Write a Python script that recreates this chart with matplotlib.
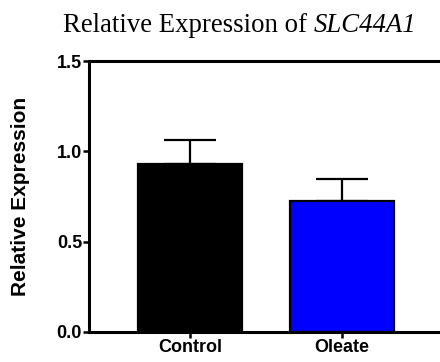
import matplotlib
matplotlib.use('Agg')
import matplotlib.pyplot as plt
import numpy as np

groups = ['Control', 'Oleate']
means = [0.93, 0.725]
sem = [0.135, 0.122]
colors = ['#000000', '#0000ff']

fig = plt.figure(figsize=(4.4, 3.62), dpi=100)
ax = fig.add_axes([89 / 440, 30 / 362, 1 - 89 / 440, 271 / 362])

x = np.arange(len(groups))
ax.bar(x, means, width=0.685, color=colors, edgecolor='black', linewidth=1.6, zorder=2)
ax.errorbar(x, means, yerr=[[0, 0], sem], fmt='none', ecolor='black',
            elinewidth=1.6, capsize=19, capthick=1.6, zorder=1)

ax.set_xlim(-0.664, 1.645)
ax.set_ylim(0, 1.5)
ax.set_yticks([0.0, 0.5, 1.0, 1.5])
ax.set_yticklabels(['0.0', '0.5', '1.0', '1.5'])
ax.set_xticks(x)
ax.set_xticklabels(groups)

for lab in ax.get_xticklabels() + ax.get_yticklabels():
    lab.set_fontfamily('Liberation Sans')
    lab.set_fontweight('bold')
    lab.set_fontsize(13)

ax.spines['right'].set_visible(False)
for s in ['left', 'top', 'bottom']:
    ax.spines[s].set_linewidth(2.2)
ax.tick_params(axis='both', width=1.8, length=4, pad=1)

ax.set_ylabel('Relative Expression', fontfamily='Liberation Sans',
              fontweight='bold', fontsize=15)
ax.yaxis.set_label_coords(-59 / 351, 0.5)

# title in two parts: plain + italic gene name, centred together
ty = 1 - 26 / 362
t1 = fig.text(0, ty, 'Relative Expression of ', ha='left', va='center',
              fontfamily='Liberation Serif', fontsize=19.3)
t2 = fig.text(0, ty, 'SLC44A1', ha='left', va='center',
              fontfamily='Liberation Serif', fontstyle='italic', fontsize=19.3)
fig.canvas.draw()
r = fig.canvas.get_renderer()
w1 = t1.get_window_extent(r).width
w2 = t2.get_window_extent(r).width
x0 = 240 - (w1 + w2) / 2
t1.set_x(x0 / 440)
t2.set_x((x0 + w1) / 440)

fig.savefig('out.png', dpi=100)
